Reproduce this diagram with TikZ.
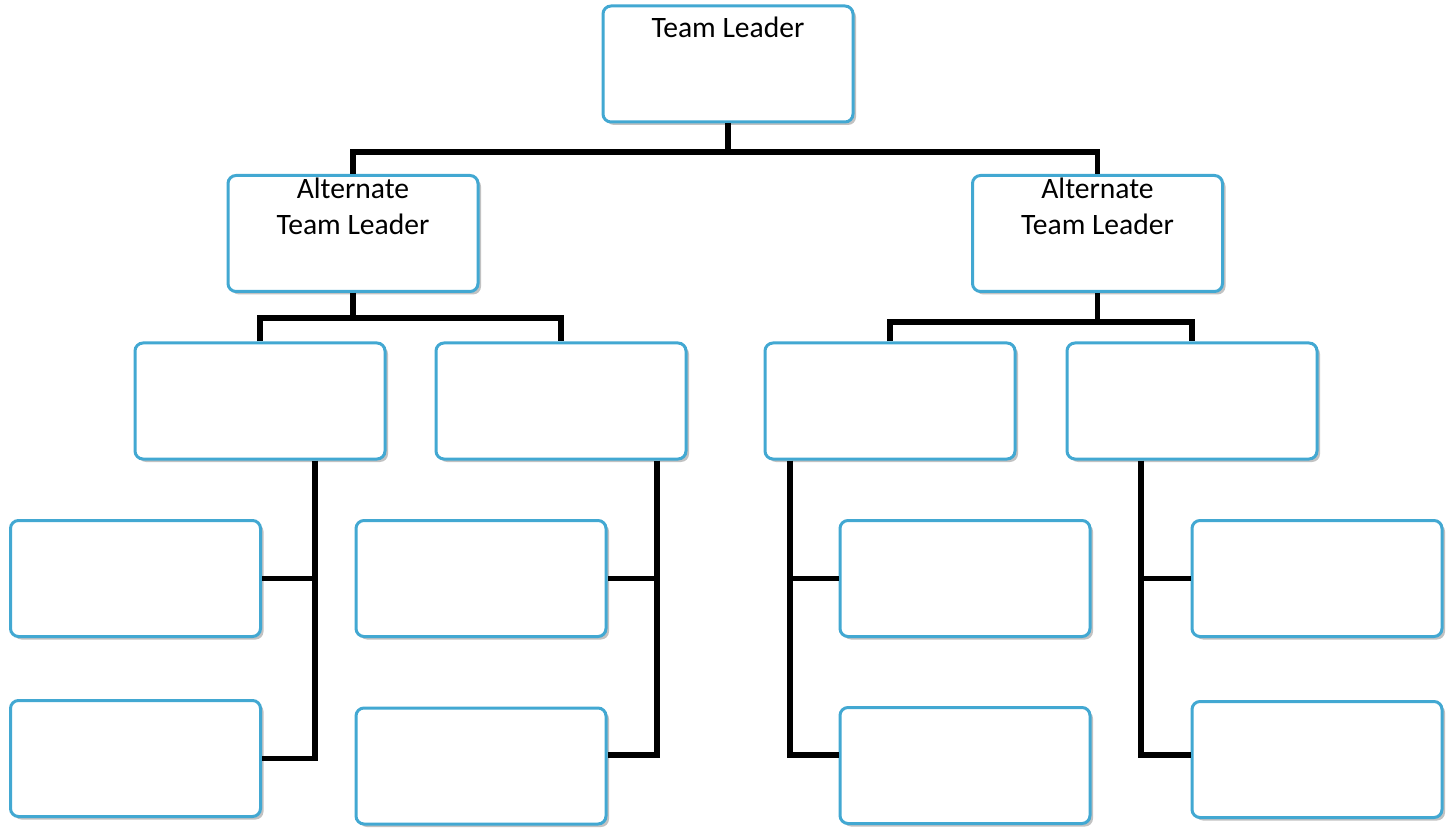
\documentclass[tikz,border=0pt]{standalone}
\usepackage{fontspec}
\setmainfont{Carlito}
\usetikzlibrary{shadows,calc}
\definecolor{boxblue}{RGB}{66,168,210}
\tikzset{
  box/.style={draw=boxblue, line width=1.5pt, rounded corners=4pt, fill=white,
    minimum width=125pt, minimum height=58pt, inner sep=0pt,
    drop shadow={shadow xshift=1.5pt, shadow yshift=-1.5pt, opacity=0.4, fill=black!60}},
  conn/.style={draw=black, line width=2.6pt},
  boxtext/.style={font=\fontsize{14.8}{18}\selectfont, align=center, anchor=north, inner sep=0pt}
}
\begin{document}
\begin{tikzpicture}[x=0.5pt,y=-0.5pt]
\useasboundingbox (0,0) rectangle (1456,828);
\coordinate (j1) at (728,152);
\coordinate (j2) at (352,318);
\coordinate (j3) at (1096,322);
% boxes
\node[box] (top) at (728,64) {};
\node[box] (altL) at (353,233.5) {};
\node[box] (altR) at (1097.5,233.5) {};
\node[box] (l3a) at (260,401) {};
\node[box] (l3b) at (561,401) {};
\node[box] (l3c) at (890,401) {};
\node[box] (l3d) at (1192,401) {};
\node[box] (l4a) at (135.5,578.5) {};
\node[box] (l4b) at (135.5,758.5) {};
\node[box] (l4c) at (481,578.5) {};
\node[box] (l4d) at (481,766) {};
\node[box] (l4e) at (965,578.5) {};
\node[box] (l4f) at (965,765.5) {};
\node[box] (l4g) at (1317,578.5) {};
\node[box] (l4h) at (1317,759.5) {};
% texts
\node[boxtext] (ttop) at ($(top.north)+(0,12)$) {Team Leader};
\node[boxtext] (taltL) at ($(altL.north)+(0,4)$) {Alternate\\Team Leader};
\node[boxtext] (taltR) at ($(altR.north)+(0,4)$) {Alternate\\Team Leader};
% connectors
\draw[conn] (top.south) -- (j1);
\draw[conn] (altL.north) |- (j1) -| (altR.north);
\draw[conn] (altL.south) -- (altL.south |- j2);
\draw[conn] (l3a.north) |- (j2) -| (l3b.north);
\draw[conn] (altR.south) -- (altR.south |- j3);
\draw[conn] (l3c.north) |- (j3) -| (l3d.north);
% level 4 connectors
\coordinate (va) at ($(l3a.south)+(55,0)$);
\draw[conn] (va) -- (va |- l4b.east) -- (l4b.east);
\draw[conn] (va |- l4a.east) -- (l4a.east);
\coordinate (vb) at ($(l3b.south)+(96,0)$);
\coordinate (d1) at ($(l4d.east)+(0,-11)$);
\draw[conn] (vb) -- (vb |- d1) -- (d1);
\draw[conn] (vb |- l4c.east) -- (l4c.east);
\coordinate (vc) at ($(l3c.south)+(-100,0)$);
\coordinate (f1) at ($(l4f.west)+(0,-10.5)$);
\draw[conn] (vc) -- (vc |- f1) -- (f1);
\draw[conn] (vc |- l4e.west) -- (l4e.west);
\coordinate (vd) at ($(l3d.south)+(-51,0)$);
\coordinate (h1) at ($(l4h.west)+(0,-4.5)$);
\draw[conn] (vd) -- (vd |- h1) -- (h1);
\draw[conn] (vd |- l4g.west) -- (l4g.west);
\end{tikzpicture}
\end{document}
